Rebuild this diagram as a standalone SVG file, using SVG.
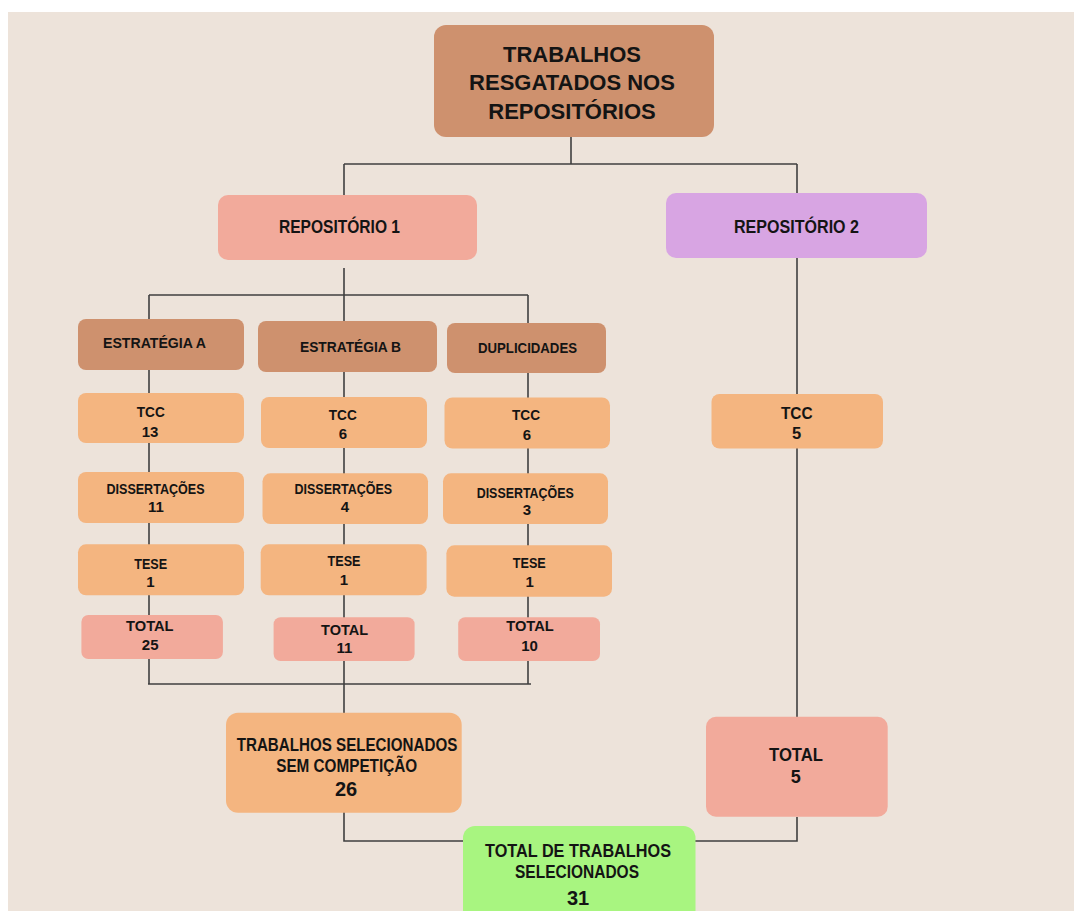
<svg xmlns="http://www.w3.org/2000/svg" width="1074" height="911" viewBox="0 0 1074 911">
<style>
.t{font-family:"Liberation Sans",Arial,sans-serif;font-weight:bold;fill:#141414;text-anchor:middle}
.s15{font-size:15px}
.s17{font-size:17.5px}
.s20{font-size:20px}
.s22{font-size:22px}
.brown{fill:#CE916E}
.pink{fill:#F2AA9B}
.purple{fill:#D8A5E3}
.orange{fill:#F4B580}
.green{fill:#A8F580}
.conn path{fill:none;stroke:#3f3f3f;stroke-width:1.6}
</style>
<rect x="0" y="0" width="1074" height="911" fill="#ffffff"/>
<rect x="8" y="12" width="1066" height="899" fill="#EDE3DA"/>

<g id="connectors" class="conn">
<path d="M571 137 V164"/>
<path d="M344 164 H797"/>
<path d="M344 164 V195"/>
<path d="M797 164 V717"/>
<path d="M344 268 V713"/>
<path d="M149 295 H528"/>
<path d="M149 295 V684"/>
<path d="M528 295 V684"/>
<path d="M148 684 H531"/>
<path d="M344 812 V841 H463"/>
<path d="M797 817 V841 H695"/>
</g>

<g id="n-top">
<rect class="brown" x="434" y="25" width="280" height="112" rx="12"/>
<text class="t s22" x="572" y="62">TRABALHOS</text>
<text class="t s22" x="572" y="90">RESGATADOS NOS</text>
<text class="t s22" x="572" y="118.5">REPOSITÓRIOS</text>
</g>

<g id="n-repo1">
<rect class="pink" x="218" y="195" width="259" height="65" rx="10"/>
<text class="t s17" x="339.5" y="232.5" textLength="121" lengthAdjust="spacingAndGlyphs">REPOSITÓRIO 1</text>
</g>

<g id="n-repo2">
<rect class="purple" x="666" y="193" width="261" height="65" rx="10"/>
<text class="t s17" x="796.5" y="232.5" textLength="125" lengthAdjust="spacingAndGlyphs">REPOSITÓRIO 2</text>
</g>

<g id="n-estA">
<rect class="brown" x="78" y="319" width="166" height="51" rx="8"/>
<text class="t s15" x="154.5" y="348.3" textLength="103" lengthAdjust="spacingAndGlyphs">ESTRATÉGIA A</text>
</g>
<g id="n-estB">
<rect class="brown" x="258" y="321" width="179" height="51" rx="8"/>
<text class="t s15" x="350.5" y="351.7" textLength="101" lengthAdjust="spacingAndGlyphs">ESTRATÉGIA B</text>
</g>
<g id="n-dup">
<rect class="brown" x="447" y="323" width="159" height="50" rx="8"/>
<text class="t s15" x="527.5" y="353.3" textLength="99" lengthAdjust="spacingAndGlyphs">DUPLICIDADES</text>
</g>

<g id="n-tccA">
<rect class="orange" x="78" y="393" width="166" height="50" rx="8"/>
<text class="t s15" x="150.8" y="416.7" textLength="28" lengthAdjust="spacingAndGlyphs">TCC</text>
<text class="t s15" x="150" y="436.7">13</text>
</g>
<g id="n-tccB">
<rect class="orange" x="261" y="397" width="166" height="51" rx="8"/>
<text class="t s15" x="342.8" y="420" textLength="28" lengthAdjust="spacingAndGlyphs">TCC</text>
<text class="t s15" x="343" y="439.3">6</text>
</g>
<g id="n-tccC">
<rect class="orange" x="444.5" y="397.5" width="165.5" height="51" rx="8"/>
<text class="t s15" x="526" y="420" textLength="28" lengthAdjust="spacingAndGlyphs">TCC</text>
<text class="t s15" x="527" y="440">6</text>
</g>

<g id="n-dissA">
<rect class="orange" x="78" y="472" width="166" height="51" rx="8"/>
<text class="t s15" x="155.5" y="494" textLength="98" lengthAdjust="spacingAndGlyphs">DISSERTAÇÕES</text>
<text class="t s15" x="156" y="511.7">11</text>
</g>
<g id="n-dissB">
<rect class="orange" x="262.5" y="473.3" width="165.5" height="50.7" rx="8"/>
<text class="t s15" x="343.3" y="494.3" textLength="97.5" lengthAdjust="spacingAndGlyphs">DISSERTAÇÕES</text>
<text class="t s15" x="344.8" y="511.7">4</text>
</g>
<g id="n-dissC">
<rect class="orange" x="443" y="473.3" width="165" height="50.7" rx="8"/>
<text class="t s15" x="525.2" y="497.7" textLength="97" lengthAdjust="spacingAndGlyphs">DISSERTAÇÕES</text>
<text class="t s15" x="527" y="515">3</text>
</g>

<g id="n-teseA">
<rect class="orange" x="78" y="544.3" width="166" height="51" rx="8"/>
<text class="t s15" x="150.7" y="569" textLength="33" lengthAdjust="spacingAndGlyphs">TESE</text>
<text class="t s15" x="150.4" y="587.3">1</text>
</g>
<g id="n-teseB">
<rect class="orange" x="260.7" y="544.3" width="166" height="51" rx="8"/>
<text class="t s15" x="344" y="566" textLength="33" lengthAdjust="spacingAndGlyphs">TESE</text>
<text class="t s15" x="344" y="585">1</text>
</g>
<g id="n-teseC">
<rect class="orange" x="446.4" y="545.3" width="165.6" height="51.4" rx="8"/>
<text class="t s15" x="529.3" y="568.3" textLength="33" lengthAdjust="spacingAndGlyphs">TESE</text>
<text class="t s15" x="529.6" y="587.3">1</text>
</g>

<g id="n-totA">
<rect class="pink" x="81.4" y="615" width="141.5" height="44" rx="7"/>
<text class="t s15" x="149.8" y="631" textLength="47.5" lengthAdjust="spacingAndGlyphs">TOTAL</text>
<text class="t s15" x="150.2" y="650">25</text>
</g>
<g id="n-totB">
<rect class="pink" x="273.6" y="617.3" width="141" height="43.7" rx="7"/>
<text class="t s15" x="344.6" y="635" textLength="47" lengthAdjust="spacingAndGlyphs">TOTAL</text>
<text class="t s15" x="344.5" y="653.3">11</text>
</g>
<g id="n-totC">
<rect class="pink" x="458.2" y="617.3" width="141.8" height="43.7" rx="7"/>
<text class="t s15" x="530" y="631" textLength="47.5" lengthAdjust="spacingAndGlyphs">TOTAL</text>
<text class="t s15" x="529.5" y="650.7">10</text>
</g>

<g id="n-tcc5">
<rect class="orange" x="711.5" y="394" width="171.5" height="54.5" rx="8"/>
<text class="t" style="font-size:16.5px" x="796.8" y="419.3" textLength="31.7" lengthAdjust="spacingAndGlyphs">TCC</text>
<text class="t" style="font-size:16.5px" x="796.7" y="439.3">5</text>
</g>

<g id="n-sel">
<rect class="orange" x="226" y="712.7" width="235.7" height="100" rx="12"/>
<text class="t s17" x="347" y="751" textLength="220.6" lengthAdjust="spacingAndGlyphs">TRABALHOS SELECIONADOS</text>
<text class="t s17" x="346.7" y="771.7" textLength="141" lengthAdjust="spacingAndGlyphs">SEM COMPETIÇÃO</text>
<text class="t s20" x="346" y="796">26</text>
</g>

<g id="n-tot5">
<rect class="pink" x="706" y="716.7" width="181.7" height="100" rx="10"/>
<text class="t" style="font-size:18px" x="796" y="761" textLength="54" lengthAdjust="spacingAndGlyphs">TOTAL</text>
<text class="t" style="font-size:18px" x="795.8" y="783.3">5</text>
</g>

<g id="n-final">
<rect class="green" x="463" y="826" width="232.5" height="100" rx="12"/>
<text class="t s17" x="578" y="856.7" textLength="186" lengthAdjust="spacingAndGlyphs">TOTAL DE TRABALHOS</text>
<text class="t s17" x="577" y="878.3" textLength="124" lengthAdjust="spacingAndGlyphs">SELECIONADOS</text>
<text class="t s20" x="578" y="905">31</text>
</g>
</svg>
